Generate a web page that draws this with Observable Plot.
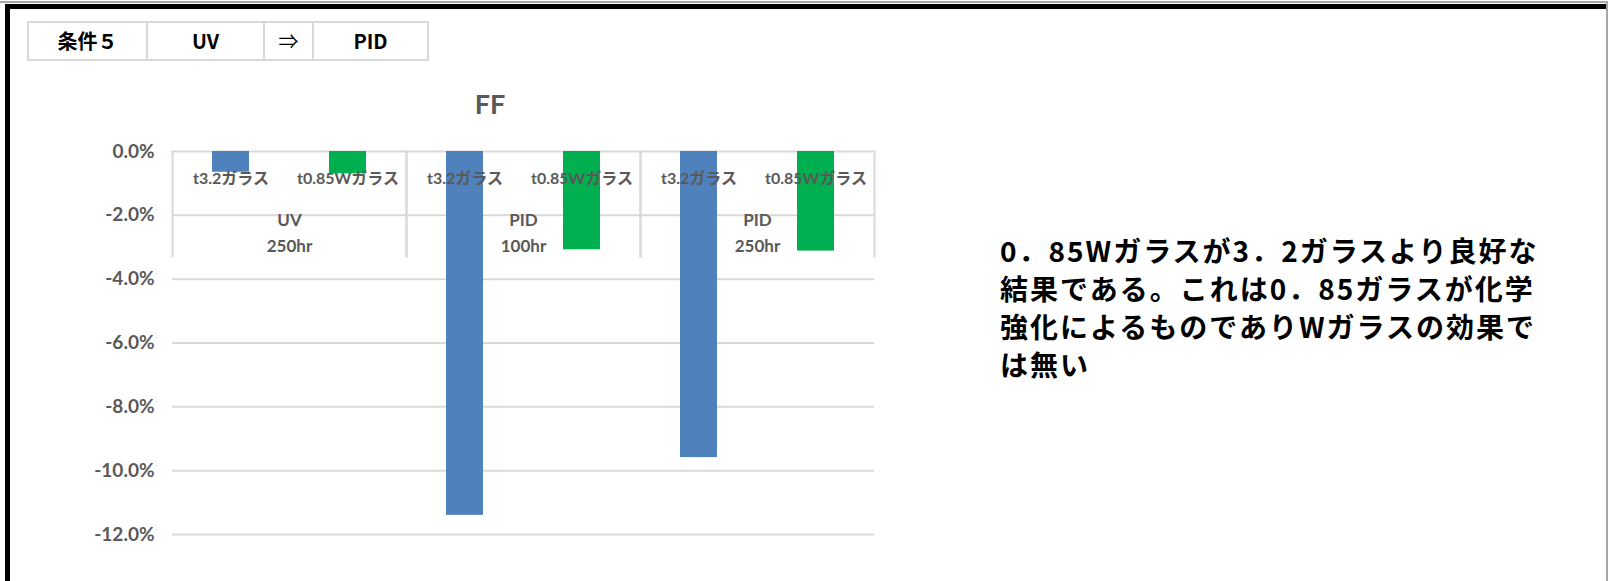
<!DOCTYPE html>
<html>
<head>
<meta charset="utf-8">
<script src="https://cdn.jsdelivr.net/npm/d3@7"></script>
<script src="https://cdn.jsdelivr.net/npm/@observablehq/plot@0.6"></script>
<style>
  html, body { margin: 0; padding: 0; background: #fff; }
  #page { position: relative; width: 1608px; height: 581px; overflow: hidden; background: #fff; }
  .line { position: absolute; }
  #hdr { position: absolute; left: 27px; top: 21px; border-collapse: collapse; font-family: "Noto Sans CJK JP", sans-serif; font-size: 20px; font-weight: bold; color: #000; }
  #hdr td { border: 2px solid #d9d9d9; height: 36px; padding: 0; text-align: center; vertical-align: middle; line-height: 1; }
  #title { position: absolute; left: 440px; width: 100px; top: 87px; text-align: center; font-family: Lato, "Noto Sans CJK JP", sans-serif; font-weight: bold; font-size: 27px; color: #595959; }
  #note { position: absolute; left: 1000px; top: 231px; font-family: "Noto Sans CJK JP", sans-serif; font-weight: bold; font-size: 28px; letter-spacing: 2px; line-height: 38px; color: #000; white-space: nowrap; }
  #chart { position: absolute; left: 0; top: 0; }
</style>
</head>
<body>
<div id="page">
  <div class="line" style="left:0;top:1px;width:1608px;height:2px;background:#a6a6a6"></div>
  <div class="line" style="left:5px;top:4px;width:1601px;height:5px;background:#000"></div>
  <div class="line" style="left:5px;top:4px;width:5px;height:577px;background:#000"></div>
  <div class="line" style="left:1606px;top:1px;width:2px;height:580px;background:#a6a6a6"></div>
  <div id="chart"></div>
  <table id="hdr"><tr></tr></table>
  <div id="title"></div>
  <div id="note"></div>
</div>
<script>
// ---- data ----
const headerCells = ["条件５", "UV", "⇒", "PID"];
const headerWidths = [117, 115, 47, 113];
const chartTitle = "FF";
const groups = ["UV 250hr", "PID 100hr", "PID 250hr"];
const groupLabels = ["UV\n250hr", "PID\n100hr", "PID\n250hr"];
const series = ["t3.2ガラス", "t0.85Wガラス"];
const t32Values = [-0.65, -11.40, -9.59];     // percent
const t085WValues = [-0.70, -3.08, -3.12];    // percent
const yTicks = [0, -2, -4, -6, -8, -10, -12];
const seriesColors = ["#4f81bd", "#00b050"];
const noteLines = [
  "0．85Wガラスが3．2ガラスより良好な",
  "結果である。これは0．85ガラスが化学",
  "強化によるものでありWガラスの効果で",
  "は無い"
];

// ---- header table ----
const tr = document.querySelector("#hdr tr");
headerCells.forEach((t, i) => {
  const td = document.createElement("td");
  td.textContent = t;
  td.style.width = headerWidths[i] + "px";
  if (t === "⇒") td.style.fontWeight = "normal";
  tr.appendChild(td);
});
document.getElementById("title").textContent = chartTitle;
const note = document.getElementById("note");
noteLines.forEach((l, i) => {
  if (i) note.appendChild(document.createElement("br"));
  note.appendChild(document.createTextNode(l));
});

// ---- chart ----
const data = groups.flatMap((g, i) => [
  {group: g, series: series[0], value: t32Values[i]},
  {group: g, series: series[1], value: t085WValues[i]}
]);
const labelFont = "Lato, 'Noto Sans CJK JP', sans-serif";
const grey = "#595959";
const lineColor = "#d9d9d9";

const chart = Plot.plot({
  width: 900,
  height: 581,
  marginTop: 151,
  marginLeft: 172,
  marginRight: 26,
  marginBottom: 47,
  style: {fontFamily: labelFont, background: "transparent", overflow: "visible"},
  fx: {domain: groups, padding: 0, axis: null, label: null},
  x: {domain: series, padding: 0, axis: null, label: null},
  y: {domain: [-12, 0], axis: null, label: null},
  color: {domain: series, range: seriesColors},
  marks: [
    Plot.gridY(yTicks, {stroke: lineColor, strokeOpacity: 1, strokeWidth: 2}),
    Plot.frame({anchor: "left", stroke: lineColor, strokeWidth: 2, insetBottom: 278}),
    Plot.frame({anchor: "right", stroke: lineColor, strokeWidth: 2, insetBottom: 278}),
    Plot.barY(data, {fx: "group", x: "series", y: "value", fill: "series", insetLeft: 40, insetRight: 40}),
    Plot.text(data, {fx: "group", x: "series", text: "series", frameAnchor: "top", lineAnchor: "middle", dy: 27,
      fontSize: 16, fontWeight: "bold", fill: grey}),
    Plot.text(groups, {fx: d => d, text: (d, i) => groupLabels[i], frameAnchor: "top", lineAnchor: "middle", dy: 79,
      lineHeight: 1.55, fontSize: 17, fontWeight: "bold", fill: grey}),
    Plot.axisY(yTicks, {tickFormat: d => d.toFixed(1) + "%", tickSize: 0, tickPadding: 18, label: null,
      fontSize: 19, fontWeight: "bold", fill: grey})
  ]
});
document.getElementById("chart").appendChild(chart);
</script>
</body>
</html>
